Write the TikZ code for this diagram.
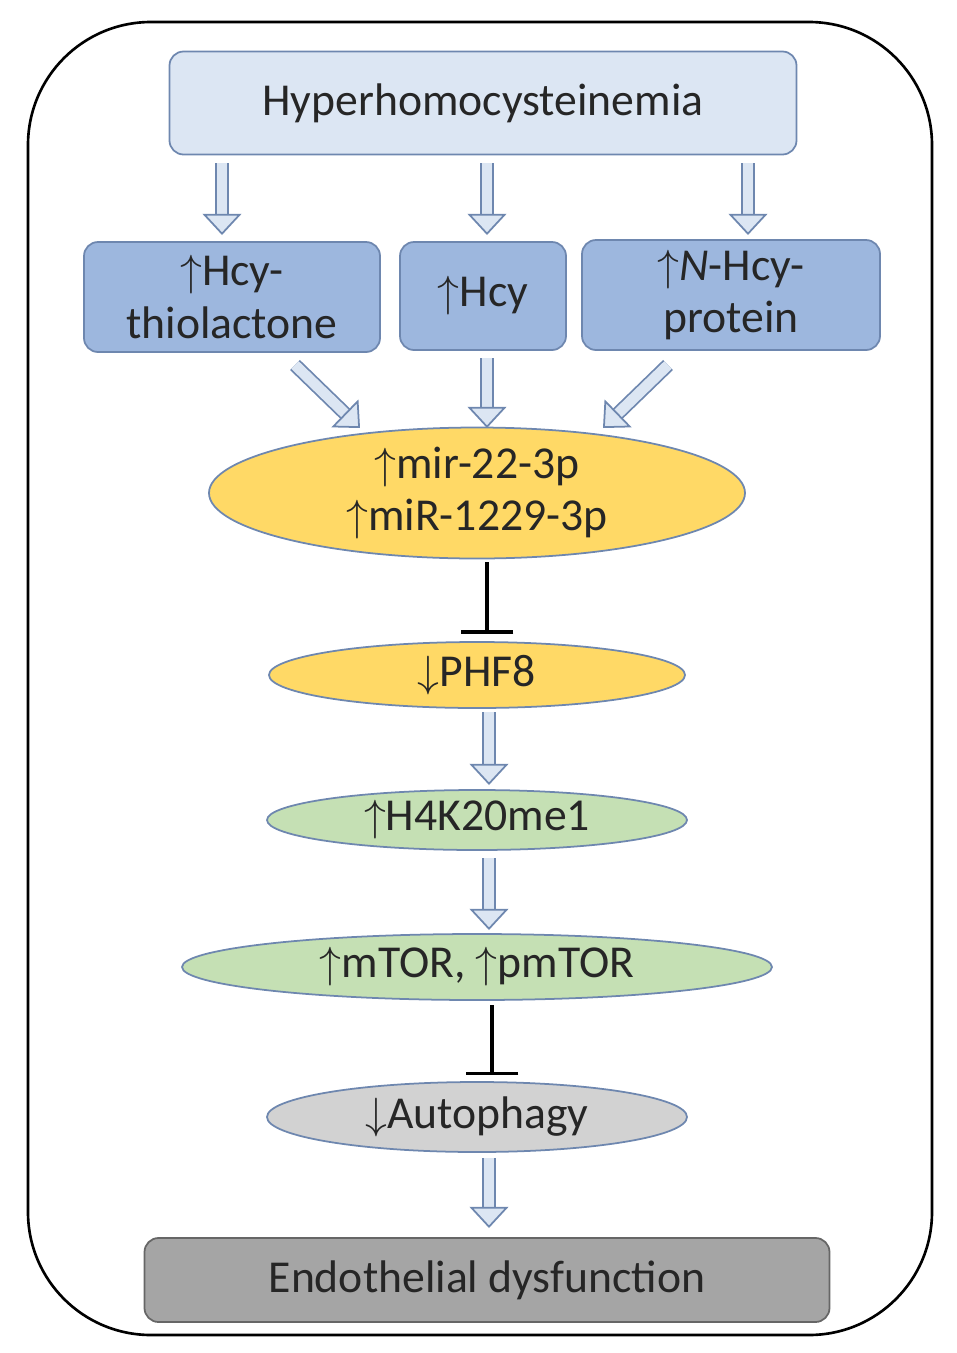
\documentclass[tikz,border=0pt]{standalone}
\usepackage{fontspec}
\setmainfont{Carlito}
\usetikzlibrary{arrows.meta,shapes.geometric,positioning}
\definecolor{topfill}{RGB}{220,230,243}
\definecolor{boxfill}{RGB}{157,183,222}
\definecolor{boxline}{RGB}{110,135,175}
\definecolor{yel}{RGB}{255,217,102}
\definecolor{grn}{RGB}{197,224,180}
\definecolor{gry}{RGB}{210,210,210}
\definecolor{dgry}{RGB}{165,165,165}
\tikzset{
  txt/.style={font=\fontsize{26}{30}\selectfont, align=center, text=black!85},
  box/.style={txt, draw=boxline, line width=1pt, rounded corners=8pt, fill=boxfill},
  oval/.style={txt, draw=boxline, line width=1pt, ellipse, inner sep=0pt},
  hollow/.style={draw=boxline, double=topfill, double distance=6pt, line width=1pt,
    -{Triangle[open, length=12pt, width=22pt, line width=1pt, fill=topfill]}},
  block/.style={line width=2pt, -{Bar[width=30pt]}}
}
\begin{document}
\begin{tikzpicture}[x=0.02cm,y=-0.02cm]
\useasboundingbox (0,0) rectangle (957,1353);
\draw[line width=1.5pt, rounded corners=70] (28,22) rectangle (932,1335);
% boxes
\node[box, fill=topfill, minimum width=627*0.02cm, minimum height=103*0.02cm] (hhc) at (483,103) {Hyperhomocysteinemia};
\node[box, minimum width=296*0.02cm, minimum height=110*0.02cm] (htl) at (232,297) {$\uparrow$Hcy-\\thiolactone};
\node[box, minimum width=166*0.02cm, minimum height=108*0.02cm] (hcy) at (483,296) {$\uparrow$Hcy};
\node[box, minimum width=298*0.02cm, minimum height=110*0.02cm] (nhp) at (731,295) {$\uparrow$\textit{N}-Hcy-\\protein};
% ovals
\node[oval, fill=yel, minimum width=536*0.02cm, minimum height=124*0.02cm] (mir) at (477,493) {$\uparrow$mir-22-3p\\$\uparrow$miR-1229-3p};
\node[oval, fill=yel, minimum width=416*0.02cm, minimum height=66*0.02cm] (phf) at (477,675) {$\downarrow$PHF8};
\node[oval, fill=grn, minimum width=420*0.02cm, minimum height=60*0.02cm] (h4k) at (477,820) {$\uparrow$H4K20me1};
\node[oval, fill=grn, minimum width=590*0.02cm, minimum height=66*0.02cm] (mtor) at (477,967) {$\uparrow$mTOR, $\uparrow$pmTOR};
\node[oval, fill=gry, minimum width=420*0.02cm, minimum height=70*0.02cm] (aut) at (477,1117) {$\downarrow$Autophagy};
\node[box, fill=dgry, draw=black!60, minimum width=685*0.02cm, minimum height=84*0.02cm] (end) at (487,1280) {Endothelial dysfunction};
% hollow arrows
\draw[hollow] (222,163) -- (222,235);
\draw[hollow] (487,163) -- (487,235);
\draw[hollow] (748,163) -- (748,235);
\draw[hollow] (295,365) -- (360,428);
\draw[hollow] (487,358) -- (487,428);
\draw[hollow] (668,365) -- (603,428);
\draw[hollow] (489,712) -- (489,785);
\draw[hollow] (489,858) -- (489,930);
\draw[hollow] (489,1158) -- (489,1228);
% inhibition
\draw[block] (487,562) -- (487,634);
\draw[block] (492,1005) -- (492,1075);
\end{tikzpicture}
\end{document}
